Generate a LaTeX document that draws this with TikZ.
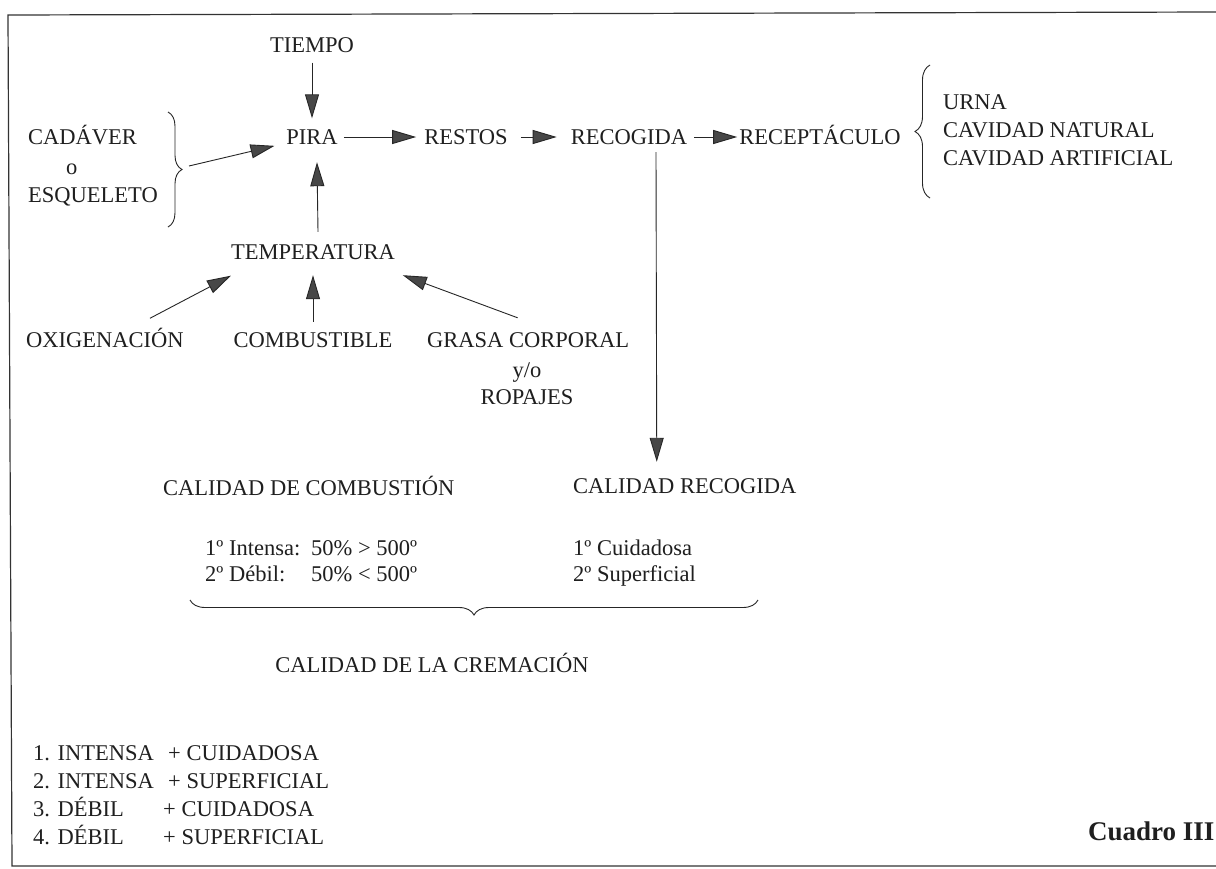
\documentclass[tikz,border=0pt]{standalone}
\usepackage{fontspec}
\setmainfont{Liberation Serif}
\usetikzlibrary{arrows.meta,decorations.pathreplacing}
\begin{document}
\begin{tikzpicture}[x=1pt,y=-1pt,
  every node/.style={inner sep=0pt, font=\fontsize{22.5}{28}\selectfont, text=black!88},
  lbl/.style={text height=15pt, text depth=0pt},
  lft/.style={lbl, anchor=west},
  arr/.style={line width=0.9pt, draw=black!85, -{Triangle[length=24pt,width=14pt,fill=black!72]}},
  brc/.style={line width=0.9pt, draw=black!85, decorate, decoration={brace, amplitude=#1}},
  frame/.style={line width=1.2pt, draw=black!80}]
\useasboundingbox (0,0) rectangle (1216,868);
\fill[white] (0,0) rectangle (1216,868);
\draw[frame] (1216,12) -- (8,15) -- (12,866) -- (1216,866);

% main chain
\node[lbl] (tiempo) at (312,45) {TIEMPO};
\node[lbl] (pira) at (312,137) {PIRA};
\node[lbl] (restos) at (466,137) {RESTOS};
\node[lbl] (recogida) at (629,137) {RECOGIDA};
\node[lbl] (recep) at (820,137) {RECEPTÁCULO};

% left group
\node[lft] (cad) at (28,137) {CADÁVER};
\node[lft] (o) at (66,167) {o};
\node[lft] (esq) at (28,195) {ESQUELETO};
\coordinate (b1a) at (168,112);
\coordinate (b1b) at (168,227);
\coordinate (b1tip) at (189,166);
\draw[brc=14pt] (b1a) -- (b1b);

% right group
\node[lft] (urna) at (943,102) {URNA};
\node[lft] (cnat) at (943,130) {CAVIDAD NATURAL};
\node[lft] (cart) at (943,158) {CAVIDAD ARTIFICIAL};
\coordinate (b2a) at (930,198);
\coordinate (b2b) at (930,65);
\draw[brc=15pt] (b2a) -- (b2b);

% temperature group
\node[lbl] (temp) at (313,252) {TEMPERATURA};
\node[lft] (oxi) at (26,340) {OXIGENACIÓN};
\node[lbl] (comb) at (313,340) {COMBUSTIBLE};
\node[lft] (grasa) at (427,340) {GRASA CORPORAL};
\node[lbl] (yo) at (527,370) {y/o};
\node[lbl] (ropa) at (527,397) {ROPAJES};

% quality
\node[lft] (calcomb) at (163,488) {CALIDAD DE COMBUSTIÓN};
\node[lft] (calrec) at (573,486) {CALIDAD RECOGIDA};
\node[lft] (int1) at (205,548) {1º Intensa:};
\node[lft] (int1v) at (311,548) {50\% > 500º};
\node[lft] (deb2) at (205,574) {2º Débil:};
\node[lft] (deb2v) at (311,574) {50\% < 500º};
\node[lft] (cui) at (573,548) {1º Cuidadosa};
\node[lft] (sup) at (573,574) {2º Superficial};
\coordinate (b3a) at (758,600);
\coordinate (b3b) at (190,600);
\draw[brc=15pt] (b3a) -- (b3b);
\node[lbl] (crem) at (432,665) {CALIDAD DE LA CREMACIÓN};

% list
\node[lft] (l1) at (33,753) {1. INTENSA};
\node[lft] (l1b) at (168,753) {+ CUIDADOSA};
\node[lft] (l2) at (33,781) {2. INTENSA};
\node[lft] (l2b) at (168,781) {+ SUPERFICIAL};
\node[lft] (l3) at (33,809) {3. DÉBIL};
\node[lft] (l3b) at (163,809) {+ CUIDADOSA};
\node[lft] (l4) at (33,837) {4. DÉBIL};
\node[lft] (l4b) at (163,837) {+ SUPERFICIAL};
\node[lft, font=\bfseries\fontsize{27}{30}\selectfont] (cuadro) at (1088,833) {Cuadro III};

% connectors
\draw[arr, shorten <=10pt, shorten >=11pt] (tiempo) -- (pira);
\draw[arr, shorten <=6pt, shorten >=8pt] (pira) -- (restos);
\draw[arr, shorten <=13pt, shorten >=14pt] (restos) -- (recogida);
\draw[arr, shorten <=7pt, shorten >=2pt] (recogida) -- (recep);
\draw[arr, shorten >=12pt] (b1tip) -- (pira);
\draw[arr] ([shift={(5pt,12.5pt)}]temp.north) -- ([shift={(5pt,-17.5pt)}]pira.south);
\draw[arr] ([shift={(45pt,14pt)}]oxi.north) -- ([shift={(0pt,-16pt)}]temp.south west);
\draw[arr] ([shift={(0pt,10.5pt)}]comb.north) -- ([shift={(0pt,-15.5pt)}]temp.south);
\draw[arr] ([shift={(-10.5pt,14.5pt)}]grasa.north) -- ([shift={(7.7pt,-15.5pt)}]temp.south east);
\draw[arr] ([shift={(27pt,-7.5pt)}]recogida.south) -- ([shift={(-28pt,16.5pt)}]calrec.north);
\end{tikzpicture}
\end{document}
